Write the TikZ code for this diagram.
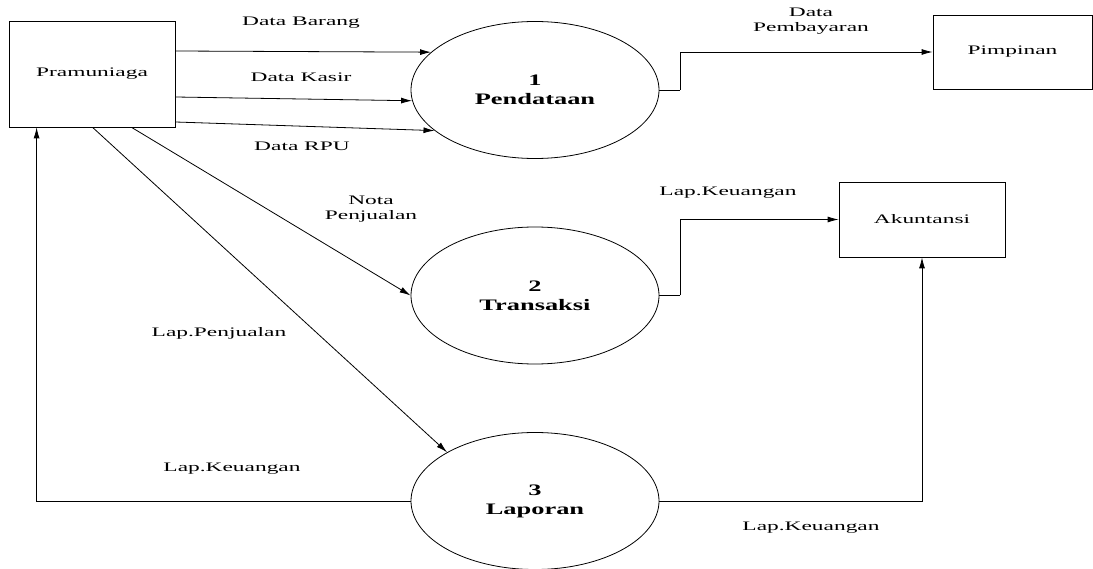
\documentclass[tikz,border=0pt]{standalone}
\usepackage{fontspec}
\setmainfont{Liberation Serif}
\newfontfamily\lblfont[FakeStretch=1.8]{Liberation Serif}
\newfontfamily\procfont[FakeStretch=1.65]{Liberation Serif}
\usetikzlibrary{arrows.meta,shapes.geometric,calc}
\tikzset{
  entity/.style={draw, line width=0.8pt, rectangle, inner sep=0pt,
    font=\lblfont\fontsize{13}{14}\selectfont},
  process/.style={draw, line width=0.8pt, ellipse, inner sep=0pt,
    minimum width=248pt, minimum height=137pt, align=center,
    font=\procfont\bfseries\fontsize{16}{19}\selectfont},
  flow/.style={line width=0.8pt, -{Latex[length=11pt,width=6pt]}},
  link/.style={line width=0.8pt},
  lbl/.style={inner sep=0pt, align=center,
    font=\lblfont\fontsize{13}{14.5}\selectfont}
}
\begin{document}
\begin{tikzpicture}[x=1pt,y=-1pt]
\useasboundingbox (0,0) rectangle (1093,569);

% external entities
\node[entity, minimum width=166pt, minimum height=106pt] (pram) at (92,74) {Pramuniaga};
\node[entity, minimum width=159pt, minimum height=74pt] (pimp) at (1012.5,52) {Pimpinan};
\node[entity, minimum width=166pt, minimum height=75pt] (akun) at (922,219.5) {Akuntansi};

% processes
\node[process] (p1) at (535,90) {1\\Pendataan};
\node[process] (p2) at (535,295.5) {2\\Transaksi};
\node[process] (p3) at (535,501) {3\\Laporan};

% inputs to process 1
\draw[flow] (pram.east |- 0,51) -- (p1.160);
\draw[flow] (pram.east |- 0,97) -- (p1.185);
\draw[flow] (pram.east |- 0,122) -- (p1.202);

% diagonal flows from Pramuniaga
\coordinate (notaStart) at ([xshift=123pt]pram.south west);
\coordinate (lapStart) at ([xshift=84pt]pram.south west);
\draw[flow] (notaStart) -- (p2.west);
\draw[flow] (lapStart) -- (p3.151);

% elbow flows to the right-hand entities
\draw[link] (p1.east) -- ++(21,0) coordinate (k1);
\draw[flow] (k1) |- (pimp.west);
\draw[link] (p2.east) -- ++(21,0) coordinate (k2);
\draw[flow] (k2) |- (akun.west);
\draw[flow] (p3.east) -| (akun.south);

% report back to Pramuniaga
\coordinate (backEnd) at ([xshift=28pt]pram.south west);
\draw[flow] (p3.west) -| (backEnd);

% flow labels
\node[lbl] (lDB) at (301,23) {Data Barang};
\node[lbl] (lDK) at (301,77) {Data Kasir};
\node[lbl] (lDR) at (302,146) {Data RPU};
\node[lbl] (lDP) at (811,21) {Data\\Pembayaran};
\node[lbl] (lNP) at (371,209) {Nota\\Penjualan};
\node[lbl] (lK1) at (728,193) {Lap.Keuangan};
\node[lbl] (lLP) at (219,333) {Lap.Penjualan};
\node[lbl] (lK2) at (232,469) {Lap.Keuangan};
\node[lbl] (lK3) at (811,528) {Lap.Keuangan};
\end{tikzpicture}
\end{document}
